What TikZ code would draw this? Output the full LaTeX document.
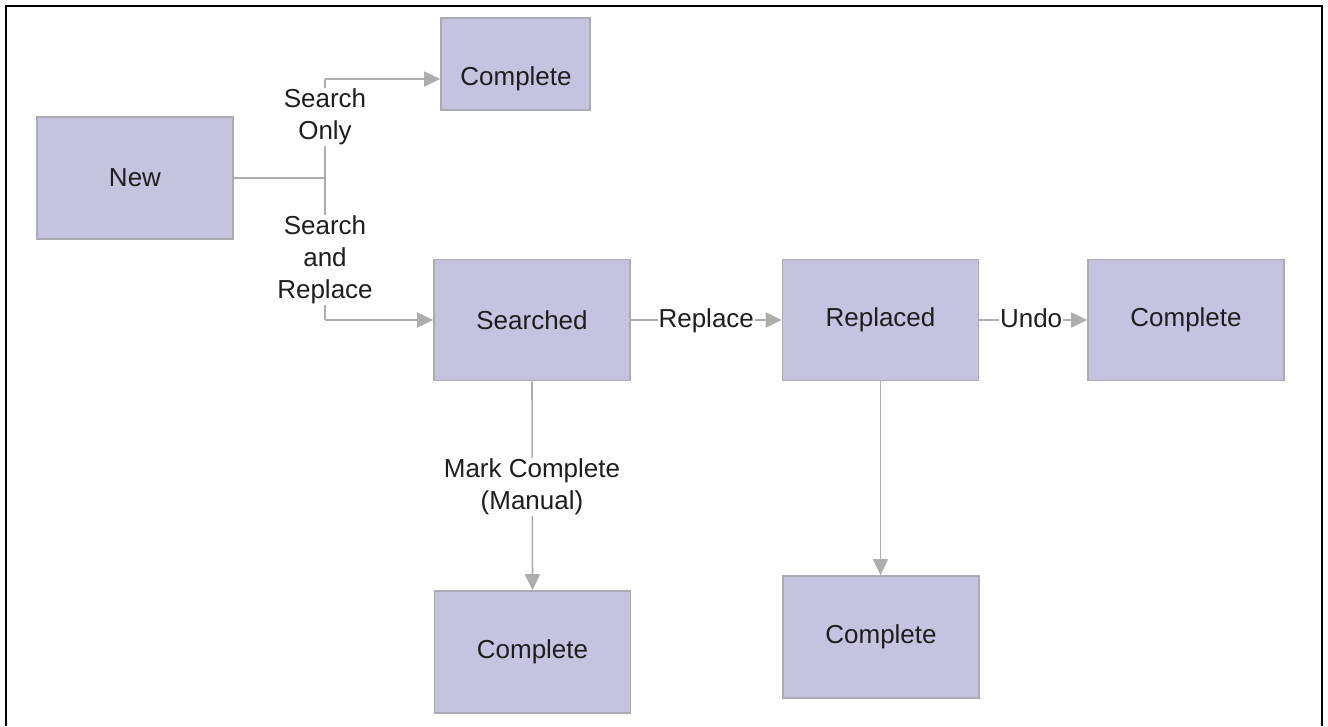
\documentclass[tikz,border=0pt]{standalone}
\usepackage{fontspec}
\setmainfont{Liberation Sans}
\usetikzlibrary{arrows.meta}
\definecolor{boxfill}{HTML}{C6C3E1}
\definecolor{boxline}{HTML}{ABABB5}
\definecolor{conn}{HTML}{ADADAD}
\definecolor{txt}{HTML}{1E1E1E}
\begin{document}
\begin{tikzpicture}[x=1pt,y=-1pt,
  state/.style={draw=boxline, fill=boxfill, line width=1.6pt, minimum width=196pt, minimum height=121pt, inner sep=0pt, text=txt, font=\fontsize{26}{31}\selectfont},
  conline/.style={draw=conn, line width=1.6pt},
  conarrow/.style={conline, -{Triangle[length=16pt,width=15pt]}},
  lab/.style={fill=white, inner sep=1pt, text=txt, align=center, font=\fontsize{26}{32}\selectfont},
  onelab/.style={lab, text height=19pt, text depth=5pt}]
\useasboundingbox (0,0) rectangle (1328,726);
\draw[line width=2.8pt, line cap=butt] (6,726) -- (6,6) -- (1322,6) -- (1322,726);
\node[state, minimum width=149pt, minimum height=92pt] (topc) at (515.5,64) {};
\node[text=txt, font=\fontsize{26}{31}\selectfont, inner sep=0pt] (topct) at (516,79) {Complete};
\node[state, minimum height=122pt] (new) at (135,178) {New};
\node[state] (searched) at (532,320) {Searched};
\node[state] (replaced) at (880.5,320) {Replaced};
\node[state] (rightc) at (1186,320) {Complete};
\node[state, minimum height=122pt] (botl) at (532.5,652) {Complete};
\node[state, minimum height=122pt] (botm) at (881,637) {Complete};
\coordinate (j) at (325,178);
\coordinate (jt) at (325,79);
\coordinate (jb) at (325,320);
\draw[conline] (new.east) -- (j);
\draw[conline] (jt) -- (jb);
\draw[conarrow] (jt) -- (topc.west |- jt);
\draw[conarrow] (jb) -- (searched.west);
\node[lab] (l1) at (325,117) {Search\\Only};
\node[lab] (l2) at (325,260) {Search\\and\\Replace};
\draw[conarrow] (searched.east) -- node[onelab, pos=0.5] {Replace} (replaced.west);
\draw[conarrow] (replaced.east) -- node[onelab, pos=0.48] {Undo} (rightc.west);
\draw[conarrow] (searched.south) -- (botl.north);
\node[lab] (l3) at (532,487) {Mark Complete\\(Manual)};
\draw[conarrow] (replaced.south) -- (botm.north -| replaced.south);
\end{tikzpicture}
\end{document}
